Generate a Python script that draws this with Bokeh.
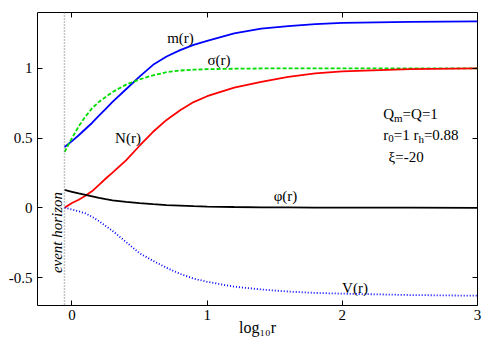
import numpy as np
from bokeh.plotting import figure
from bokeh.models import Label, Span, LinearAxis, FixedTicker, Range1d, CustomJSTickFormatter
from bokeh.embed import file_html
from bokeh.resources import INLINE

# ---- data ----
log_r = [-0.055, 0.0, 0.05, 0.10, 0.15, 0.20, 0.25, 0.30, 0.40, 0.50, 0.60,
         0.70, 0.80, 0.90, 1.0, 1.2, 1.4, 1.6, 1.8, 2.0, 2.5, 3.0]
m_r = [0.436, 0.478, 0.52, 0.565, 0.61, 0.66, 0.71, 0.76, 0.85, 0.94, 1.025,
       1.085, 1.13, 1.168, 1.197, 1.25, 1.284, 1.303, 1.316, 1.325, 1.333, 1.336]
sigma_r = [0.40, 0.50, 0.585, 0.655, 0.715, 0.76, 0.795, 0.83, 0.883, 0.92, 0.95,
           0.972, 0.984, 0.99, 0.994, 0.997, 0.999, 1.0, 1.0, 1.0, 1.0, 1.0]
N_r = [0.0, 0.035, 0.058, 0.086, 0.12, 0.165, 0.21, 0.252, 0.34, 0.445, 0.545,
       0.63, 0.70, 0.758, 0.80, 0.862, 0.903, 0.938, 0.963, 0.978, 0.994, 1.0]
phi_r = [0.128, 0.115, 0.103, 0.093, 0.082, 0.071, 0.062, 0.054, 0.043, 0.034, 0.026,
         0.02, 0.016, 0.012, 0.009, 0.006, 0.004, 0.003, 0.002, 0.0015, 0.001, 0.0]
V_r = [0.0, -0.012, -0.025, -0.04, -0.065, -0.095, -0.13, -0.165, -0.245, -0.325, -0.38,
       -0.43, -0.473, -0.507, -0.53, -0.565, -0.585, -0.60, -0.61, -0.615, -0.625, -0.63]

r_h = 0.88
x_horizon = float(np.log10(r_h))

x_ticks = [0, 1, 2, 3]
y_ticks = [-0.5, 0, 0.5, 1]
y_tick_labels = ["-0.5", "0", "0.5", "1"]

# ---- figure ----
X0, X1 = -0.255, 3.0
Y0, Y1 = -0.70, 1.40
FW, FH = 440, 293       # frame size in px
FL, FT = 37, 12          # frame left/top on page

p = figure(width=490, height=340, x_range=Range1d(X0, X1), y_range=Range1d(Y0, Y1),
           output_backend="svg", toolbar_location=None,
           min_border_left=FL, min_border_right=490 - FL - FW, min_border_top=FT,
           min_border_bottom=340 - FT - FH)
p.xgrid.visible = False
p.ygrid.visible = False
p.outline_line_color = "black"
p.outline_line_width = 1
p.background_fill_color = "white"
p.border_fill_color = "white"

FONT = "Liberation Serif"

def style_axis(ax, ticks, show_labels=True):
    ax.ticker = FixedTicker(ticks=ticks)
    ax.axis_line_color = None
    ax.major_tick_in = 5
    ax.major_tick_out = 0
    ax.major_tick_line_color = "black"
    ax.minor_tick_line_color = None
    ax.major_label_text_font = FONT
    ax.major_label_text_color = "black"
    ax.major_label_text_font_size = "15px"
    if show_labels:
        ax.major_label_standoff = 4
    else:
        ax.formatter = CustomJSTickFormatter(code="return ''")
        ax.major_label_standoff = 0

style_axis(p.xaxis[0], x_ticks)
style_axis(p.yaxis[0], y_ticks)
p.yaxis[0].major_label_overrides = {t: s for t, s in zip(y_ticks, y_tick_labels)}
p.yaxis[0].major_label_standoff = 5

xa = p.xaxis[0]
xa.axis_label = "log\u2081\u2080r"
xa.axis_label_text_font = FONT
xa.axis_label_text_font_style = "normal"
xa.axis_label_text_font_size = "16px"
xa.axis_label_text_color = "black"
xa.axis_label_standoff = -4

top_ax = LinearAxis()
style_axis(top_ax, x_ticks, show_labels=False)
p.add_layout(top_ax, "above")
right_ax = LinearAxis()
style_axis(right_ax, y_ticks, show_labels=False)
p.add_layout(right_ax, "right")

# ---- curves ----
p.line(log_r, m_r, line_color="#0000ff", line_width=1.8)
p.line(log_r, sigma_r, line_color="#00dd00", line_width=1.8, line_dash="4 2")
p.line(log_r, N_r, line_color="#ff0000", line_width=1.8)
p.line(log_r, phi_r, line_color="black", line_width=1.8)
p.line(log_r, V_r, line_color="#0000ff", line_width=1.8, line_dash="1 2")

p.add_layout(Span(location=x_horizon, dimension="height", line_color="#888888",
                  line_width=1.5, line_dash="1 2"))

# ---- text helpers (page px -> data) ----
def dx(px):
    return X0 + (px - FL) * (X1 - X0) / FW

def dy(py):
    return Y1 - (py - FT) * (Y1 - Y0) / FH

def label(text, px, py, size=15, align="center", baseline="middle", angle=0.0, style="normal"):
    p.add_layout(Label(x=dx(px), y=dy(py), text=text, text_font=FONT,
                       text_font_size=f"{size}px", text_align=align,
                       text_baseline=baseline, angle=angle, text_color="black",
                       text_font_style=style))

W = {' ': 0.25, '(': 0.333, ')': 0.333, '-': 0.333, '.': 0.25, '=': 0.564,
     'Q': 0.722, 'm': 0.778, 'r': 0.333, 'h': 0.5, 'l': 0.278, 'o': 0.5,
     'g': 0.5, 'ξ': 0.45}

def run(pieces, px, py, size=15, sub_size=11, sub_drop=4):
    for text, sub in pieces:
        s = sub_size if sub else size
        label(text, px, py + (sub_drop if sub else 0), size=s, align="left", baseline="alphabetic")
        px += sum(W.get(c, 0.5) for c in text) * s

# curve labels
label("m(r)", 180, 37)
label("σ(r)", 218.5, 59)
label("N(r)", 127.5, 137)
label("φ(r)", 285, 195)
label("V(r)", 354.5, 287)

# parameter box
run([("Q", False), ("m", True), ("=Q=1", False)], 382.7, 113)
run([("r", False), ("0", True), ("=1 r", False), ("h", True), ("=0.88", False)], 382.7, 134)
run([("ξ=-20", False)], 388, 156.5)

# event horizon
label("event horizon", 56, 232, size=15, angle=np.pi / 2, style="italic")

open("out.html", "w").write(file_html(p, INLINE))
